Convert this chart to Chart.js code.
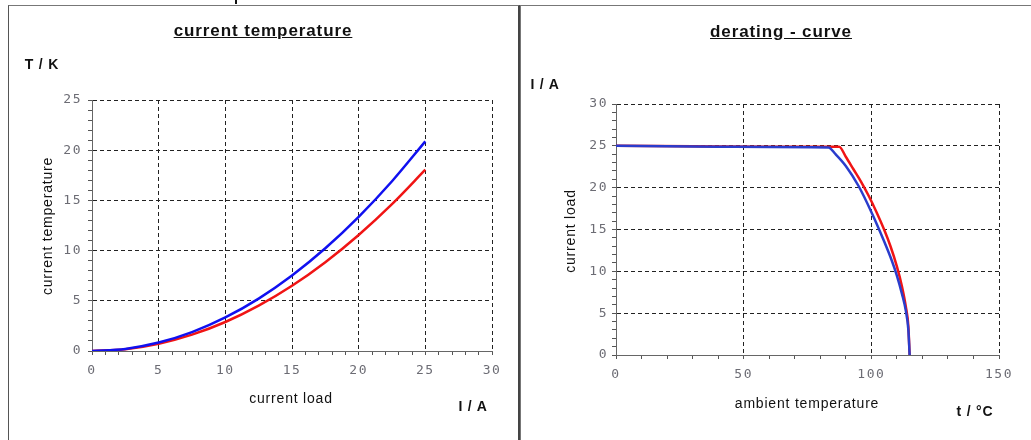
<!DOCTYPE html>
<html>
<head>
<meta charset="utf-8">
<script src="https://cdn.jsdelivr.net/npm/chart.js@4.4.0/dist/chart.umd.min.js"></script>
<style>
  body { margin:0; background:#fff; width:1031px; height:440px; overflow:hidden; position:relative;
         font-family:"Liberation Sans", Arial, sans-serif; }
  .lbl { position:absolute; transform:translate(-50%,-50%); white-space:nowrap; color:#111; }
  .ttl { font-weight:bold; font-size:17px; letter-spacing:0.9px; text-decoration:underline; }
  .unit { font-weight:bold; font-size:14px; letter-spacing:0.8px; }
  .axt { font-size:14px; letter-spacing:0.8px; }
  .rot { transform:translate(-50%,-50%) rotate(-90deg); }
  canvas { position:absolute; top:0; }
</style>
</head>
<body>
<div style="position:absolute;left:8px;top:5px;width:509px;height:450px;border-left:1px solid #555;border-top:1px solid #777;border-right:2px solid #444;"></div>
<div style="position:absolute;left:520px;top:5px;width:520px;height:450px;border-left:1px solid #777;border-top:1px solid #777;"></div>
<div style="position:absolute;left:235px;top:0;width:2px;height:4px;background:#111;"></div>

<canvas id="c1" width="520" height="440" style="left:0;width:520px;height:440px"></canvas>
<canvas id="c2" width="511" height="440" style="left:520px;width:511px;height:440px"></canvas>

<div class="lbl ttl" style="left:263px;top:31px">current temperature</div>
<div class="lbl unit" style="left:42px;top:64px">T / K</div>
<div class="lbl axt rot" style="left:47px;top:226px">current temperature</div>
<div class="lbl axt" style="left:291px;top:398px">current load</div>
<div class="lbl unit" style="left:473px;top:406px">I / A</div>

<div class="lbl ttl" style="left:781px;top:32px">derating - curve</div>
<div class="lbl unit" style="left:545px;top:84px">I / A</div>
<div class="lbl axt rot" style="left:570px;top:231px">current load</div>
<div class="lbl axt" style="left:807px;top:403px">ambient temperature</div>
<div class="lbl unit" style="left:975px;top:411px">t / °C</div>

<script>
// left chart: temperature rise vs current
const loadI = [0, 2.5, 5, 7.5, 10, 12.5, 15, 17.5, 20, 22.5, 25]
const riseBlue = [0, 0.21, 0.84, 1.88, 3.34, 5.22, 7.52, 10.23, 13.36, 16.91, 20.88]
const riseRed = [0, 0.18, 0.72, 1.63, 2.89, 4.52, 6.50, 8.85, 11.56, 14.63, 18.06]

// right chart: derating curves (ambient temp, current)
const deratT_blue = [0, 20, 40, 60, 83.2, 86, 90, 95, 100, 105, 108, 110, 112, 113.5, 114.5, 115]
const deratI_blue = [25.0, 24.95, 24.9, 24.85, 24.8, 24.0, 22.6, 20.2, 17.1, 13.6, 11.3, 9.5, 7.3, 5.3, 3.0, 0]
const deratT_red = [0, 30, 60, 87.4, 90, 93, 96, 99, 102, 105, 107.5, 110, 112, 113.5, 114.5, 115]
const deratI_red = [25.0, 24.95, 24.9, 24.9, 23.7, 22.2, 20.7, 19.0, 17.1, 15.0, 13.0, 10.6, 8.2, 5.8, 3.4, 0]

function pts(xs, ys) { return xs.map((x, i) => ({x: x, y: ys[i]})) }

const tickFont = {family: "DejaVu Sans Mono", size: 13}
const tickCol = '#6c6c74'

const spacing = {
  id: 'spacing',
  beforeDraw(chart) { chart.ctx.letterSpacing = '1.5px' }
}

function axis(min, max, step, major, fitSize, isX, pad) {
  return {
    type: 'linear', min: min, max: max,
    afterFit: s => { if (isX) s.height = fitSize; else s.width = fitSize },
    ticks: {
      stepSize: step, autoSkip: false, maxRotation: 0, minRotation: 0,
      color: tickCol, font: tickFont, padding: pad,
      callback: v => (v % major === 0 ? v : '')
    },
    grid: {
      color: c => (c.tick && c.tick.value % major === 0 && c.tick.value !== 0) ? '#222' : 'rgba(0,0,0,0)',
      lineWidth: 1,
      tickColor: '#555',
      tickLength: 4,
      tickBorderDash: []
    },
    border: { display: true, color: '#666', width: 1, dash: [4, 3] }
  }
}

new Chart(document.getElementById('c1'), {
  type: 'scatter',
  data: {
    datasets: [
      { data: pts(loadI, riseBlue), borderColor: '#1010f0', borderWidth: 2.5, showLine: true, pointRadius: 0, cubicInterpolationMode: 'monotone' },
      { data: pts(loadI, riseRed), borderColor: '#f01414', borderWidth: 2.5, showLine: true, pointRadius: 0, cubicInterpolationMode: 'monotone' }
    ]
  },
  options: {
    responsive: false, animation: false, events: [],
    layout: { padding: { left: 0, top: 100, right: 28, bottom: 0 } },
    plugins: { legend: { display: false }, tooltip: { enabled: false } },
    scales: {
      x: axis(0, 30, 1, 5, 89, true, 8),
      y: axis(0, 25, 1, 5, 92, false, 6)
    }
  },
  plugins: [spacing]
})

new Chart(document.getElementById('c2'), {
  type: 'scatter',
  data: {
    datasets: [
      { data: pts(deratT_blue, deratI_blue), borderColor: '#2a3ccc', borderWidth: 2.5, showLine: true, pointRadius: 0, cubicInterpolationMode: 'monotone' },
      { data: pts(deratT_red, deratI_red), borderColor: '#f01414', borderWidth: 2.5, showLine: true, pointRadius: 0, cubicInterpolationMode: 'monotone' }
    ]
  },
  options: {
    responsive: false, animation: false, events: [],
    layout: { padding: { left: 0, top: 104, right: 32, bottom: 0 } },
    plugins: { legend: { display: false }, tooltip: { enabled: false } },
    scales: {
      x: axis(0, 150, 10, 50, 85, true, 8),
      y: axis(0, 30, 1, 5, 96, false, 4)
    }
  },
  plugins: [spacing]
})
</script>
</body>
</html>
